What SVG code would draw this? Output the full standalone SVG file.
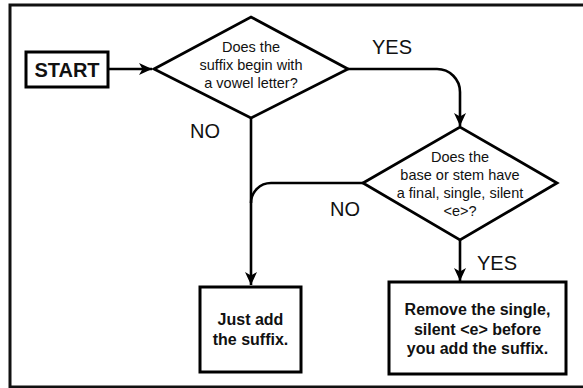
<svg xmlns="http://www.w3.org/2000/svg" width="583" height="388" viewBox="0 0 583 388">
<style>
.box{fill:#fff;stroke:#000;stroke-width:3}
.dia{fill:#fff;stroke:#000;stroke-width:2.8;stroke-linejoin:miter}
.con{fill:none;stroke:#000;stroke-width:2.6}
.q{font-family:"Liberation Sans",Arial,sans-serif;font-size:14.5px;text-anchor:middle;fill:#111}
.b{font-family:"Liberation Sans",Arial,sans-serif;font-size:16px;font-weight:bold;text-anchor:middle;fill:#111}
.lab{font-family:"Liberation Sans",Arial,sans-serif;font-size:20px;fill:#111}
</style>
<defs>
<marker id="arr" markerUnits="userSpaceOnUse" markerWidth="14" markerHeight="12" refX="13" refY="6" orient="auto">
<path d="M0,0 L13,6 L0,12 L3.5,6 z" fill="#000"/>
</marker>
</defs>
<rect x="0" y="0" width="583" height="388" fill="#fff"/>
<rect x="10" y="5" width="600" height="382" fill="#fff" stroke="#111" stroke-width="3"/>
<g id="connectors">
<path class="con" d="M108,69 H152" marker-end="url(#arr)"/>
<path class="con" d="M251,118 V285" marker-end="url(#arr)"/>
<path class="con" d="M348,69 H437 A23,23 0 0 1 460,92 V126" marker-end="url(#arr)"/>
<path class="con" d="M363,183 H271 A20,20 0 0 0 251,203"/>
<path class="con" d="M460,240 V281" marker-end="url(#arr)"/>
</g>
<g id="labels">
<text class="lab" x="372" y="54">YES</text>
<text class="lab" x="190" y="138">NO</text>
<text class="lab" x="330" y="216">NO</text>
<text class="lab" x="477" y="270">YES</text>
</g>
<g id="start">
<rect class="box" x="26" y="52" width="82" height="35"/>
<text x="67" y="77" font-family="Liberation Sans, Arial, sans-serif" font-size="20" font-weight="bold" text-anchor="middle" fill="#111">START</text>
</g>
<g id="q1">
<polygon class="dia" points="154,69 251,17 348,69 251,118"/>
<text class="q" x="251" y="52">Does the</text>
<text class="q" x="251" y="70">suffix begin with</text>
<text class="q" x="251" y="88">a vowel letter?</text>
</g>
<g id="q2">
<polygon class="dia" points="363,183 460,127 557,183 460,240"/>
<text class="q" x="460" y="162">Does the</text>
<text class="q" x="460" y="180">base or stem have</text>
<text class="q" x="460" y="198">a final, single, silent</text>
<text class="q" x="460" y="216">&lt;e&gt;?</text>
</g>
<g id="justadd">
<rect class="box" x="200" y="287" width="101" height="85"/>
<text class="b" x="250.5" y="325">Just add</text>
<text class="b" x="250.5" y="345">the suffix.</text>
</g>
<g id="remove">
<rect class="box" x="389" y="282" width="177" height="92"/>
<text class="b" x="477.5" y="315">Remove the single,</text>
<text class="b" x="477.5" y="335">silent &lt;e&gt; before</text>
<text class="b" x="477.5" y="354">you add the suffix.</text>
</g>
</svg>
